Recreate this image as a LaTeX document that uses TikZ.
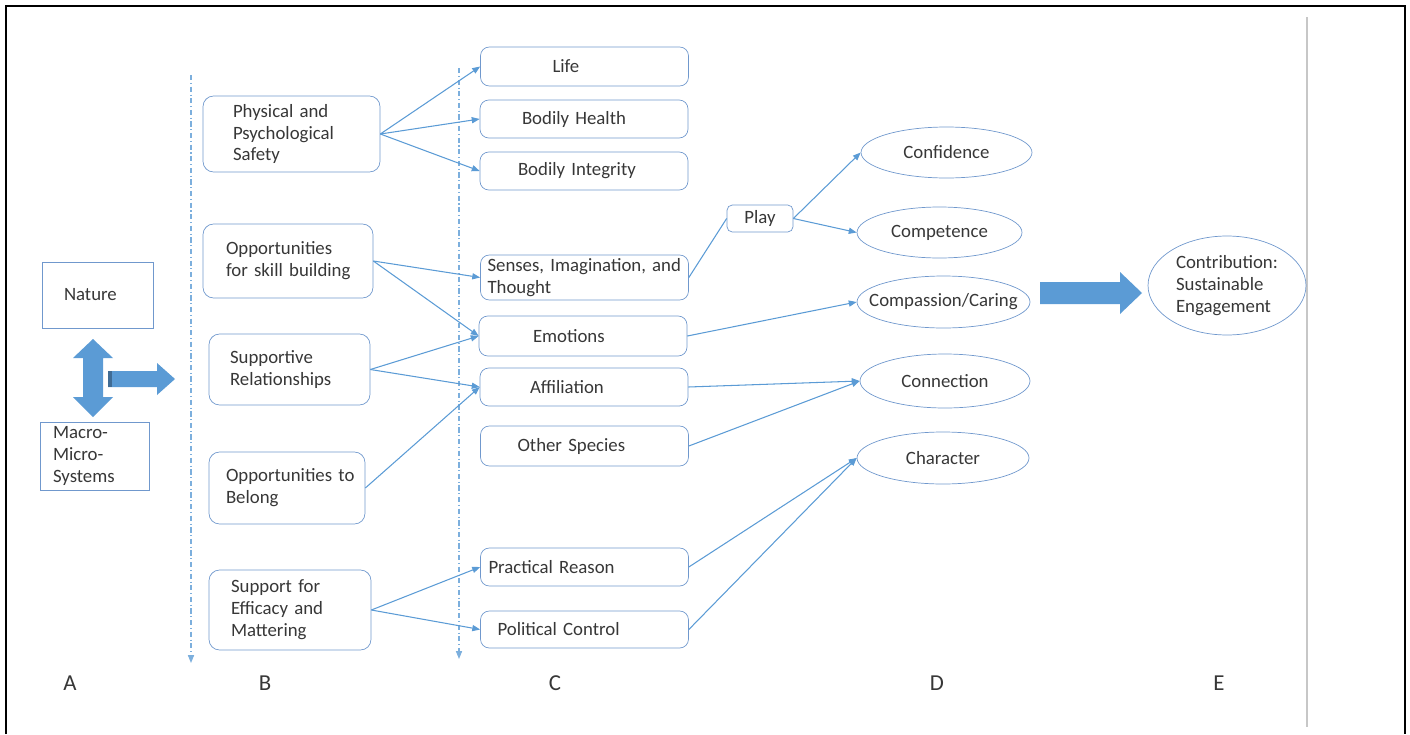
\documentclass[tikz,border=0pt]{standalone}
\usepackage{fontspec}
\setmainfont{Carlito}
\usetikzlibrary{arrows.meta,shapes.geometric,positioning}

\definecolor{lineblue}{RGB}{91,155,213}
\definecolor{boxblue}{RGB}{112,152,205}
\definecolor{txtgray}{RGB}{55,55,55}

\begin{document}
\begin{tikzpicture}[x=0.02cm, y=-0.02cm,
    lbl/.style={text=txtgray, font=\fontsize{10.7}{12.5}\selectfont, inner sep=0pt},
    sqbox/.style={lbl, draw=boxblue, align=left, text width=#1},
    bbox/.style={lbl, draw=boxblue, rounded corners=6pt, align=left, text width=#1},
    cbox/.style={lbl, draw=boxblue, rounded corners=5pt, align=left, text width=#1,
        minimum width=4.16cm},
    oval/.style={lbl, ellipse, draw=boxblue},
    link/.style={draw=lineblue, line width=0.6pt, -{Triangle[length=4.5pt,width=3.5pt]}},
    guide/.style={draw=lineblue!80, line width=0.6pt,
        dash pattern=on 3pt off 1.5pt on 0.6pt off 1.5pt,
        -{Triangle[length=4.5pt,width=3.5pt]}},
    bigarrow/.style={fill=lineblue, draw=none},
    col/.style={text=txtgray, font=\fontsize{13}{15}\selectfont}]

    \useasboundingbox (0,0) rectangle (1410,734);

    % frame and grey rule on the right
    \draw[line width=1.2pt] (6,734) -- (6,6) -- (1405,6) -- (1405,734);
    \draw[black!22, line width=1.3pt] (1307,17) -- (1307,727);

    % A: sources
    \node[sqbox=1.34cm, minimum width=2.22cm, minimum height=1.32cm] (nature) at (97.5,295) {Nature};
    \node[sqbox=1.66cm, minimum width=2.18cm, minimum height=1.36cm] (macro) at (94.5,456)
        {Macro-\\Micro-\\Systems};

    % block arrows
    \draw[bigarrow] (93,339) -- (113,358) -- (103,358) -- (103,397) -- (113,397) -- (93,417)
        -- (73,397) -- (83,397) -- (83,358) -- (73,358) -- cycle;
    \draw[bigarrow] (108,371) -- (157,371) -- (157,363) -- (175,379) -- (157,395) -- (157,387)
        -- (108,387) -- cycle;
    \fill[lineblue!70!black] (108,371) rectangle (112,387);

    % dash-dot guides
    \coordinate (g1top) at (191,75);
    \coordinate (g1bot) at (191,663);
    \coordinate (g2top) at (459,68);
    \coordinate (g2bot) at (459,659);
    \draw[guide] (g1top) -- (g1bot);
    \draw[guide] (g2top) -- (g2bot);

    % B: supports
    \node[bbox=2.34cm, minimum width=3.54cm, minimum height=1.52cm] (phys) at (291.5,134)
        {\mbox{Physical and}\\Psychological\\Safety};
    \node[bbox=2.48cm, minimum width=3.40cm, minimum height=1.48cm] (skill) at (288,261)
        {Opportunities\\\mbox{for skill building}};
    \node[bbox=2.38cm, minimum width=3.22cm, minimum height=1.42cm] (supp) at (289.5,369.5)
        {Supportive\\Relationships};
    \node[bbox=2.44cm, minimum width=3.12cm, minimum height=1.44cm] (belong) at (287,488)
        {\mbox{Opportunities to}\\Belong};
    \node[bbox=2.36cm, minimum width=3.24cm, minimum height=1.60cm] (effic) at (290,610)
        {\mbox{Support for}\\\mbox{Efficacy and}\\Mattering};

    % C: capabilities
    \node[cbox=1.28cm, minimum height=0.78cm] (life) at (584.5,66.5) {Life};
    \node[cbox=2.48cm, minimum height=0.76cm] (health) at (584,119) {\mbox{Bodily Health}};
    \node[cbox=2.64cm, minimum height=0.76cm] (integ) at (584,171) {\mbox{Bodily Integrity}};
    \node[cbox=3.88cm, minimum height=0.90cm] (senses) at (584.5,277.5)
        {\mbox{Senses, Imagination, and}\\Thought};
    \node[cbox=2.00cm, minimum height=0.80cm] (emo) at (583,336) {Emotions};
    \node[cbox=2.16cm, minimum height=0.76cm] (affil) at (584,387) {Affiliation};
    \node[cbox=2.68cm, minimum height=0.80cm] (other) at (584.5,446) {\mbox{Other Species}};
    \node[cbox=3.84cm, minimum height=0.76cm] (pract) at (584.5,567) {\mbox{Practical Reason}};
    \node[cbox=3.48cm, minimum height=0.74cm] (polit) at (584.5,629.5) {\mbox{Political Control}};
    \node[lbl, draw=boxblue, rounded corners=3pt, minimum width=1.32cm, minimum height=0.54cm]
        (play) at (760,218.5) {Play};

    % D: outcomes
    \node[oval, minimum width=3.42cm, minimum height=1.02cm] (conf) at (946.5,152.5) {Confidence};
    \node[oval, minimum width=3.30cm, minimum height=1.02cm] (compe) at (939.5,232.5) {Competence};
    \node[oval, minimum width=3.46cm, minimum height=1.04cm] (compa) at (943.5,302)
        {\makebox[0pt]{Compassion/Caring}};
    \node[oval, minimum width=3.40cm, minimum height=1.08cm] (conn) at (945,381) {Connection};
    \node[oval, minimum width=3.44cm, minimum height=1.04cm] (chara) at (943,458) {Character};

    % E: contribution
    \node[oval, align=left, text width=2.04cm, minimum width=3.16cm, minimum height=1.98cm]
        (contrib) at (1227,285.5) {Contribution:\\Sustainable\\Engagement};
    \draw[bigarrow] (1040,282) -- (1120,282) -- (1120,272) -- (1142,293) -- (1120,314)
        -- (1120,304) -- (1040,304) -- cycle;

    % B -> C
    \draw[link] (phys.east) -- (life.west);
    \draw[link] (phys.east) -- (health.west);
    \draw[link] (phys.east) -- (integ.west);
    \draw[link] (skill.east) -- (senses.west);
    \draw[link] (skill.east) -- (emo.west);
    \draw[link] (supp.east) -- (emo.west);
    \draw[link] (supp.east) -- (affil.west);
    \draw[link] (belong.east) -- (affil.west);
    \draw[link] (effic.east) -- (pract.west);
    \draw[link] (effic.east) -- (polit.west);

    % C -> D
    \draw[draw=lineblue, line width=0.6pt] (senses.east) -- (play.west);
    \draw[link] (play.east) -- (conf.west);
    \draw[link] (play.east) -- (compe.west);
    \draw[link] (emo.east) -- (compa.west);
    \draw[link] (affil.east) -- (conn.west);
    \draw[link] (other.east) -- (conn.west);
    \draw[link] (pract.east) -- (chara.west);
    \draw[link] (polit.east) -- (chara.west);

    % column letters
    \node[col] (labA) at (70,683) {A};
    \node[col] (labB) at (265,683) {B};
    \node[col] (labC) at (555,683) {C};
    \node[col] (labD) at (937,683) {D};
    \node[col] (labE) at (1219,683) {E};
\end{tikzpicture}
\end{document}
